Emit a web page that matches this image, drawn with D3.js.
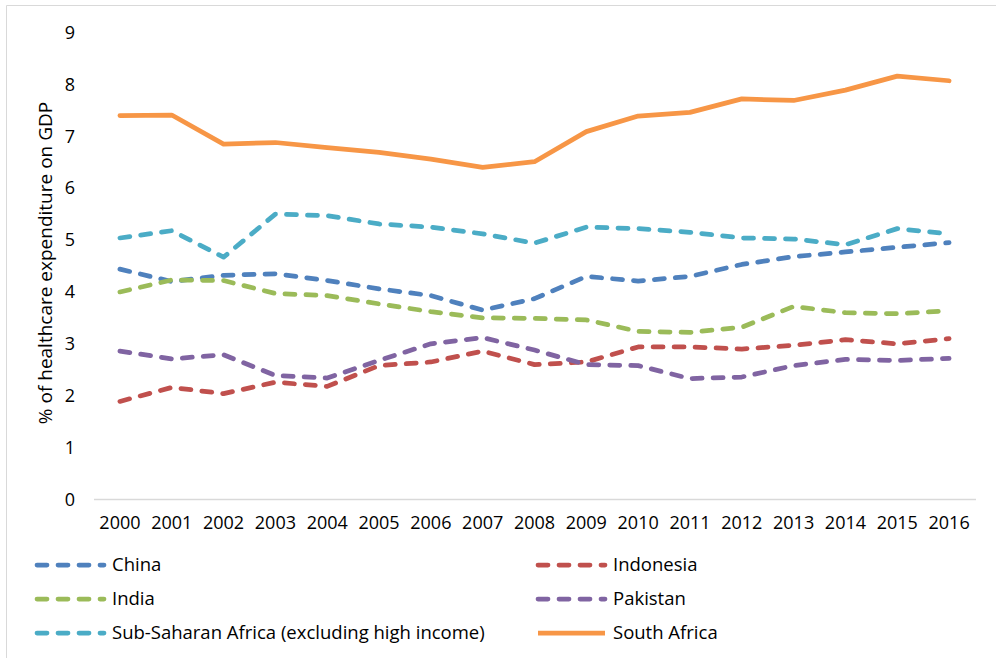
<!DOCTYPE html>
<html>
<head>
<meta charset="UTF-8">
<title>Healthcare expenditure</title>
<script src="https://d3js.org/d3.v7.min.js"></script>
<style>
    body { margin: 0; background: #fff; }
    svg { display: block; font-family: "Open Sans", sans-serif; }
</style>
</head>
<body>
<svg id="chart" width="996" height="658"></svg>
<script>
    var years = ["2000", "2001", "2002", "2003", "2004", "2005", "2006", "2007", "2008",
        "2009", "2010", "2011", "2012", "2013", "2014", "2015", "2016"];
    var yTicks = [0, 1, 2, 3, 4, 5, 6, 7, 8, 9];

    var china = [4.44, 4.20, 4.32, 4.35, 4.22, 4.06, 3.93, 3.65, 3.87, 4.30, 4.21, 4.30, 4.53, 4.68, 4.77, 4.86, 4.95];
    var indonesia = [1.89, 2.16, 2.04, 2.26, 2.18, 2.58, 2.65, 2.86, 2.60, 2.65, 2.94, 2.94, 2.90, 2.97, 3.08, 3.00, 3.10];
    var india = [4.00, 4.23, 4.22, 3.97, 3.93, 3.77, 3.62, 3.50, 3.49, 3.46, 3.24, 3.22, 3.32, 3.72, 3.60, 3.58, 3.64];
    var pakistan = [2.86, 2.71, 2.79, 2.39, 2.34, 2.68, 3.00, 3.12, 2.88, 2.60, 2.58, 2.33, 2.36, 2.58, 2.70, 2.68, 2.72];
    var subSaharan = [5.04, 5.18, 4.67, 5.50, 5.47, 5.31, 5.25, 5.12, 4.94, 5.25, 5.22, 5.15, 5.04, 5.02, 4.91, 5.22, 5.12];
    var southAfrica = [7.40, 7.41, 6.85, 6.88, 6.78, 6.69, 6.56, 6.40, 6.51, 7.09, 7.39, 7.46, 7.72, 7.69, 7.89, 8.16, 8.07];

    var seriesNames = ["China", "Indonesia", "India", "Pakistan", "Sub-Saharan Africa (excluding high income)", "South Africa"];
    var seriesColors = ["#4F81BD", "#C0504D", "#9BBB59", "#8064A2", "#4BACC6", "#F79646"];
    var seriesDashed = [true, true, true, true, true, false];
    var seriesValues = [china, indonesia, india, pakistan, subSaharan, southAfrica];

    var series = seriesNames.map(function (n, i) {
        return { name: n, color: seriesColors[i], dashed: seriesDashed[i], values: seriesValues[i] };
    });

    var svg = d3.select("#chart");

    // chart frame (only left and top edges are visible)
    svg.append("path")
        .attr("d", "M6.5,700 L6.5,5.5 L1000,5.5")
        .attr("fill", "none")
        .attr("stroke", "#D9D9D9")
        .attr("stroke-width", 1);

    var x = d3.scaleBand().domain(years).range([94, 975]);
    var y = d3.scaleLinear().domain([0, 9]).range([499.5, 32.5]);

    // x axis line
    svg.append("line")
        .attr("x1", 94).attr("x2", 976)
        .attr("y1", y(0)).attr("y2", y(0))
        .attr("stroke", "#D9D9D9").attr("stroke-width", 1.5);

    var xAxis = svg.append("g")
        .attr("transform", "translate(0," + y(0) + ")")
        .call(d3.axisBottom(x).tickSize(0).tickPadding(17));
    xAxis.select(".domain").remove();
    xAxis.selectAll("text").attr("font-size", "18px").attr("fill", "#000")
        .attr("font-family", "'Open Sans', sans-serif");

    var yAxis = svg.append("g")
        .attr("transform", "translate(75,0)")
        .call(d3.axisLeft(y).tickValues(yTicks).tickSize(0).tickPadding(0));
    yAxis.select(".domain").remove();
    yAxis.selectAll("text").attr("font-size", "18px").attr("fill", "#000")
        .attr("font-family", "'Open Sans', sans-serif");

    svg.append("text")
        .attr("transform", "translate(52,263) rotate(-90)")
        .attr("text-anchor", "middle")
        .attr("font-size", "19px")
        .attr("fill", "#000")
        .text("% of healthcare expenditure on GDP");

    var line = d3.line()
        .x(function (d, i) { return x(years[i]) + x.bandwidth() / 2; })
        .y(function (d) { return y(d); });

    svg.append("g").selectAll("path")
        .data(series)
        .enter().append("path")
        .attr("d", function (d) { return line(d.values); })
        .attr("fill", "none")
        .attr("stroke", function (d) { return d.color; })
        .attr("stroke-width", 4.75)
        .attr("stroke-linecap", "round")
        .attr("stroke-linejoin", "round")
        .attr("stroke-dasharray", function (d) { return d.dashed ? "10,11" : null; });

    // legend: two columns, three rows
    var legend = svg.append("g").selectAll("g")
        .data(series)
        .enter().append("g")
        .attr("transform", function (d, i) {
            return "translate(" + (i % 2 === 0 ? 37 : 538) + "," + (565 + Math.floor(i / 2) * 34) + ")";
        });
    legend.append("line")
        .attr("x1", 0).attr("x2", 67)
        .attr("stroke", function (d) { return d.color; })
        .attr("stroke-width", 4.75)
        .attr("stroke-linecap", function (d) { return d.dashed ? "round" : "butt"; })
        .attr("stroke-dasharray", function (d) { return d.dashed ? "10,11" : null; });
    legend.append("text")
        .attr("x", 75)
        .attr("dy", "0.35em")
        .attr("font-size", "18.5px")
        .attr("fill", "#000")
        .text(function (d) { return d.name; });
</script>
</body>
</html>
